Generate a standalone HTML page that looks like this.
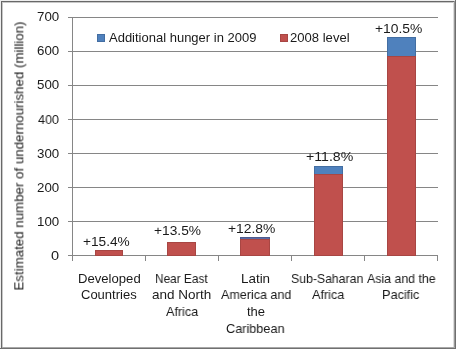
<!DOCTYPE html>
<html><head><meta charset="utf-8">
<style>
html,body{margin:0;padding:0;}
body{width:456px;height:349px;overflow:hidden;background:#fff;position:relative;font-family:"Liberation Sans",sans-serif;color:#1a1a1a;}
.a{position:absolute;}
.t{position:absolute;white-space:nowrap;line-height:1;transform-origin:0 0;will-change:transform;}
.g{position:absolute;background:#868686;height:1px;left:68px;width:370px;}
.tk{position:absolute;background:#868686;width:1px;top:256px;height:5px;}
.b{position:absolute;background:#4F81BD;box-shadow:inset 0 0 0 1px rgba(0,0,0,0.14);}
.r{position:absolute;background:#C0504D;box-shadow:inset 0 0 0 1px rgba(0,0,0,0.12);}
</style></head><body>
<div class="a" style="left:0;top:0;width:456px;height:1px;background:#eee"></div>
<div class="a" style="left:0;top:0;width:1px;height:349px;background:#eee"></div>
<div class="a" style="left:1px;top:1px;width:454px;height:1px;background:#686868"></div>
<div class="a" style="left:1px;top:1px;width:1px;height:347px;background:#686868"></div>
<div class="a" style="left:2px;top:2px;width:451px;height:1px;background:#c8c8c8"></div>
<div class="a" style="left:2px;top:2px;width:1px;height:345px;background:#c8c8c8"></div>
<div class="a" style="left:453px;top:2px;width:1px;height:345px;background:#ddd"></div>
<div class="a" style="left:454px;top:1px;width:1px;height:347px;background:#999"></div>
<div class="a" style="left:455px;top:0;width:1px;height:349px;background:#707070"></div>
<div class="a" style="left:2px;top:347px;width:453px;height:1px;background:#a8a8a8"></div>
<div class="a" style="left:0;top:348px;width:456px;height:1px;background:#707070"></div>
<div class="t" style="font-size:13.3px;left:19px;top:155.5px;transform-origin:50% 50%;transform:translate(-50%,-50%) rotate(-90deg);">Estimated number of undernourished (million)</div>
<div class="g" style="top:17px"></div><div class="g" style="top:51px"></div><div class="g" style="top:85px"></div><div class="g" style="top:119px"></div><div class="g" style="top:153px"></div><div class="g" style="top:187px"></div><div class="g" style="top:221px"></div>
<div class="g" style="top:255px"></div>
<div class="r" style="left:95px;width:28px;top:250.10px;height:5.90px"></div><div class="r" style="left:167px;width:29px;top:241.60px;height:14.40px"></div><div class="b" style="left:240px;width:30px;top:237.40px;height:18.60px;background:#5a6aa5"></div><div class="r" style="left:240px;width:30px;top:239.20px;height:16.80px"></div><div class="b" style="left:314px;width:29px;top:165.70px;height:90.30px"></div><div class="r" style="left:314px;width:29px;top:174.40px;height:81.60px"></div><div class="b" style="left:387px;width:29px;top:36.60px;height:219.40px"></div><div class="r" style="left:387px;width:29px;top:56.10px;height:199.90px"></div>
<div class="a" style="left:72px;top:17px;width:1px;height:244px;background:#868686"></div>
<div class="tk" style="left:145px"></div><div class="tk" style="left:218px"></div><div class="tk" style="left:291px"></div><div class="tk" style="left:364px"></div><div class="tk" style="left:437px"></div>
<div class="a" style="left:97px;top:34px;width:8px;height:8px;background:#4F81BD;box-shadow:inset 0 0 0 1px rgba(0,0,0,0.14)"></div>
<div class="a" style="left:280px;top:34px;width:8px;height:8px;background:#C0504D;box-shadow:inset 0 0 0 1px rgba(0,0,0,0.12)"></div>
<div class="t" style="left:36.91px;top:9.95px;font-size:13.3px;transform:scaleX(0.9905)">700</div>
<div class="t" style="left:36.91px;top:44.15px;font-size:13.3px;transform:scaleX(0.9905)">600</div>
<div class="t" style="left:36.91px;top:78.35px;font-size:13.3px;transform:scaleX(0.9905)">500</div>
<div class="t" style="left:37.90px;top:112.55px;font-size:13.3px;transform:scaleX(0.9455)">400</div>
<div class="t" style="left:36.91px;top:146.75px;font-size:13.3px;transform:scaleX(0.9905)">300</div>
<div class="t" style="left:36.91px;top:180.95px;font-size:13.3px;transform:scaleX(0.9905)">200</div>
<div class="t" style="left:36.91px;top:215.15px;font-size:13.3px;transform:scaleX(0.9905)">100</div>
<div class="t" style="left:51.06px;top:249.35px;font-size:13.3px;transform:scaleX(1.0917)">0</div>
<div class="t" style="left:82.54px;top:235.30px;font-size:13.6px;transform:scaleX(1.0056)">+15.4%</div>
<div class="t" style="left:154.49px;top:223.70px;font-size:13.6px;transform:scaleX(1.0111)">+13.5%</div>
<div class="t" style="left:227.68px;top:221.50px;font-size:13.6px;transform:scaleX(1.0200)">+12.8%</div>
<div class="t" style="left:305.66px;top:149.50px;font-size:13.6px;transform:scaleX(1.0386)">+11.8%</div>
<div class="t" style="left:374.88px;top:22.10px;font-size:13.6px;transform:scaleX(1.0189)">+10.5%</div>
<div class="t" style="left:108.60px;top:32.40px;font-size:12.6px;transform:scaleX(1.0317)">Additional hunger in 2009</div>
<div class="t" style="left:290.16px;top:32.40px;font-size:12.6px;transform:scaleX(1.0382)">2008 level</div>
<div class="t" style="left:77.69px;top:271.80px;font-size:13.0px;transform:scaleX(1.0083)">Developed</div>
<div class="t" style="left:80.60px;top:288.30px;font-size:13.0px;transform:scaleX(0.9981)">Countries</div>
<div class="t" style="left:154.99px;top:271.80px;font-size:13.0px;transform:scaleX(0.9105)">Near East</div>
<div class="t" style="left:152.16px;top:288.30px;font-size:13.0px;transform:scaleX(1.0382)">and North</div>
<div class="t" style="left:166.00px;top:304.90px;font-size:13.0px;transform:scaleX(0.9697)">Africa</div>
<div class="t" style="left:240.57px;top:271.80px;font-size:13.0px;transform:scaleX(1.0308)">Latin</div>
<div class="t" style="left:220.80px;top:288.30px;font-size:13.0px;transform:scaleX(0.9639)">America and</div>
<div class="t" style="left:246.70px;top:304.90px;font-size:13.0px;transform:scaleX(0.9824)">the</div>
<div class="t" style="left:225.72px;top:321.60px;font-size:13.0px;transform:scaleX(0.9759)">Caribbean</div>
<div class="t" style="left:290.96px;top:271.80px;font-size:13.0px;transform:scaleX(0.9427)">Sub-Saharan</div>
<div class="t" style="left:311.70px;top:288.30px;font-size:13.0px;transform:scaleX(0.9727)">Africa</div>
<div class="t" style="left:366.90px;top:271.80px;font-size:13.0px;transform:scaleX(0.9500)">Asia and the</div>
<div class="t" style="left:382.42px;top:288.30px;font-size:13.0px;transform:scaleX(0.9757)">Pacific</div>
</body></html>
